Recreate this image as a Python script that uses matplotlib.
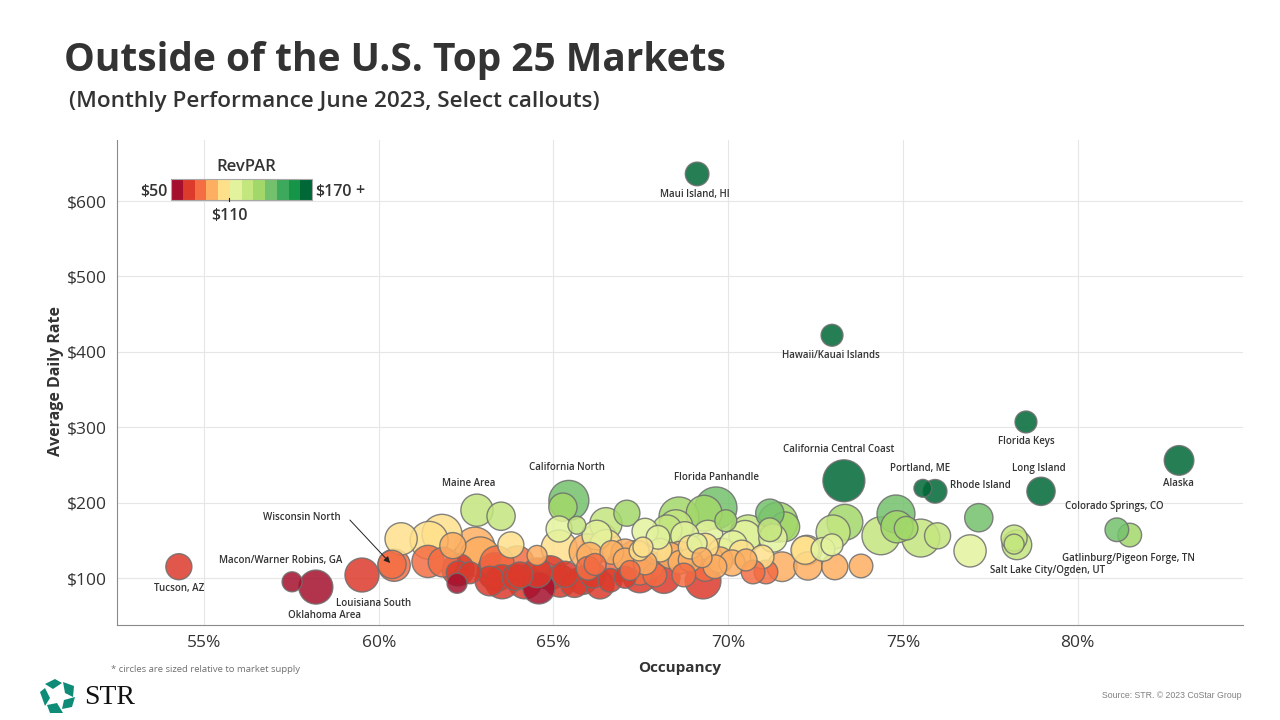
import numpy as np
import matplotlib
matplotlib.use('Agg')
import matplotlib.pyplot as plt
from matplotlib.colors import ListedColormap, BoundaryNorm
from matplotlib.patches import Polygon, Rectangle
from matplotlib.ticker import FuncFormatter

W, H = 1280, 720

# ---- data ----
occupancy = [
    69.11, 72.97, 78.52, 82.90, 78.95, 75.57, 75.92, 73.31, 54.28, 57.52, 59.52, 58.20,
    62.81, 63.50, 65.44, 65.27, 65.16, 65.67, 66.50, 67.10, 66.24, 66.33, 65.96,
    61.81, 61.44, 60.64, 62.12, 62.75, 63.78, 64.53, 65.16, 61.41, 60.44, 60.38, 61.84,
    63.38, 62.90, 62.27, 62.27, 62.61, 62.24, 63.38, 63.33, 63.53, 63.90, 64.04, 64.58,
    64.53, 65.19, 65.33, 65.84, 66.13, 65.99, 66.19, 66.90, 66.62, 67.05, 67.19, 67.45,
    67.62, 67.99, 68.50, 68.59, 68.76, 69.65, 69.31, 69.93, 69.42, 69.11, 69.34, 70.14,
    70.48, 67.56, 68.05, 69.25, 68.73, 68.16, 69.28, 69.62, 70.11, 70.51, 70.97, 70.71,
    71.08, 71.54, 71.19, 71.42, 71.62, 71.19, 71.28, 72.25, 72.20, 72.28, 72.71, 72.97,
    73.00, 73.34, 73.05, 73.80, 74.37, 74.80, 74.83, 75.09, 75.51, 75.99, 77.17, 76.92,
    78.18, 78.26, 78.18, 81.12, 81.49,
    67.76, 67.47, 68.33, 68.91, 68.62, 67.90, 69.82, 70.39, 67.05, 69.34, 66.67,
    64.90, 63.96, 63.18, 64.18, 65.60, 66.33, 67.47, 67.05, 67.62, 67.33, 68.62,
    69.76, 68.91, 68.25, 70.57, 66.50, 66.04,
]
adr = [
    636, 422, 307, 256, 215, 219, 215, 229, 115, 95, 104, 88,
    190, 182, 203, 194, 165, 170, 172, 186, 157, 150, 135,
    158, 150, 152, 143, 141, 144, 130, 140, 122, 117, 118, 121,
    120, 128, 111, 107, 107, 93, 108, 110, 95, 101, 104, 87,
    107, 96, 105, 97, 104, 113, 118, 115, 97, 101, 110, 136,
    162, 154, 168, 181, 156, 193, 186, 176, 157, 146, 142, 144,
    155, 141, 137, 127, 104, 101, 96, 115, 120, 124, 128, 108,
    108, 115, 186, 174, 168, 164, 153, 137, 137, 116, 138, 144,
    161, 174, 115, 116, 156, 185, 168, 166, 153, 156, 180, 136,
    153, 144, 145, 164, 157,
    117, 108, 130, 124, 121, 104, 134, 133, 124, 113, 134,
    107, 120, 96, 95, 93, 91, 103, 133, 120, 127, 130,
    124, 141, 164, 160, 143, 130,
]
supply = [
    14, 12, 12, 22, 20, 8, 14, 44, 17, 10, 29, 29,
    26, 20, 40, 20, 17, 8, 26, 17, 22, 32, 32,
    40, 36, 26, 17, 40, 17, 10, 32, 26, 26, 20, 22,
    29, 40, 26, 14, 12, 10, 36, 32, 29, 17, 17, 26,
    22, 26, 17, 20, 17, 14, 12, 20, 14, 12, 10, 10,
    17, 14, 29, 40, 20, 44, 32, 12, 22, 10, 17, 20,
    26, 10, 14, 10, 14, 26, 32, 14, 17, 12, 14, 14,
    14, 22, 20, 40, 22, 14, 20, 22, 20, 20, 14, 12,
    29, 32, 17, 14, 36, 36, 26, 14, 36, 17, 20, 26,
    17, 22, 10, 14, 14,
    20, 17, 17, 14, 14, 14, 20, 17, 14, 17, 14,
    29, 29, 22, 29, 20, 20, 29, 20, 14, 29, 20,
    17, 14, 22, 32, 26, 17,
]

x_ticks = [55, 60, 65, 70, 75, 80]
y_ticks = [100, 200, 300, 400, 500, 600]
revpar_bins = list(range(50, 180, 10))
palette = ['#A50F2D', '#DC3A2B', '#F46D43', '#FDAE61', '#FEE08B', '#E3F39D',
           '#C4E67F', '#A2D86A', '#74C16D', '#3DA95C', '#169548', '#006837']

# callouts: name, centre of the text in pixels
callouts = [
    ('Maui Island, HI', 695, 195), ('Hawaii/Kauai Islands', 831, 355),
    ('Florida Keys', 1026, 441), ('California Central Coast', 839, 450),
    ('Portland, ME', 920, 469), ('Long Island', 1039, 468),
    ('Rhode Island', 980, 485), ('Alaska', 1178, 484),
    ('Colorado Springs, CO', 1114, 506), ('Gatlinburg/Pigeon Forge, TN', 1128, 558),
    ('Salt Lake City/Ogden, UT', 1048, 570), ('California North', 567, 468),
    ('Maine Area', 469, 483), ('Florida Panhandle', 716, 478),
    ('Wisconsin North', 302, 518), ('Macon/Warner Robins, GA', 281, 560),
    ('Tucson, AZ', 179, 589), ('Louisiana South', 374, 603),
    ('Oklahoma Area', 324, 615),
]

plt.rcParams['font.family'] = ['Open Sans', 'DejaVu Sans']
TEXT = '#333333'


def px(x, y):
    """pixel position (origin top left) to figure fraction"""
    return x / W, 1 - y / H


fig = plt.figure(figsize=(12.8, 7.2), dpi=100, facecolor='white')
ax = fig.add_axes([117 / W, 1 - 625 / H, (1243 - 117) / W, (625 - 140) / H])

occ = np.array(occupancy)
rate = np.array(adr)
size = np.array(supply, dtype=float)
revpar = occ * rate / 100

cmap = ListedColormap(palette)
norm = BoundaryNorm(revpar_bins, cmap.N, clip=True)

# big circles go first so the small ones stay visible
order = np.argsort(-size)
ax.scatter(occ[order], rate[order], s=size[order] * 20.7, c=revpar[order], cmap=cmap, norm=norm,
           alpha=0.85, edgecolors='#6E6E6E', linewidths=1.0, zorder=3)

ax.set_xlim(52.51, 84.73)
ax.set_ylim(37.7, 681)
ax.set_xticks(x_ticks)
ax.set_yticks(y_ticks)
ax.xaxis.set_major_formatter(FuncFormatter(lambda v, _: f'{v:.0f}%'))
ax.yaxis.set_major_formatter(FuncFormatter(lambda v, _: f'${v:.0f}'))
ax.tick_params(length=0, labelsize=12.5, labelcolor=TEXT, pad=7)
ax.grid(True, color='#E6E6E6', linewidth=0.8, zorder=0)
ax.set_axisbelow(True)
for side in ['top', 'right']:
    ax.spines[side].set_visible(False)
for side in ['left', 'bottom']:
    ax.spines[side].set_color('#8A8A8A')

for name, x, y in callouts:
    fig.text(*px(x, y), name, fontsize=7, fontweight='semibold', color=TEXT,
             ha='center', va='center', zorder=6)

# arrow for Wisconsin North
ax.annotate('', xy=ax.transData.inverted().transform((392, H - 565)),
            xytext=ax.transData.inverted().transform((348, H - 518)),
            arrowprops=dict(arrowstyle='-|>', color='#222222', lw=0.7, mutation_scale=9),
            zorder=7)

# titles
fig.text(*px(64, 60), 'Outside of the U.S. Top 25 Markets', fontsize=28, fontweight='bold',
         color=TEXT, ha='left', va='center')
fig.text(*px(69, 102), '(Monthly Performance June 2023, Select callouts)', fontsize=16.2,
         fontweight='semibold', color=TEXT, ha='left', va='center')
fig.text(*px(680, 668), 'Occupancy', fontsize=11, fontweight='bold', color=TEXT,
         ha='center', va='center')
fig.text(*px(56, 381), 'Average Daily Rate', fontsize=11.5, fontweight='bold', color=TEXT,
         ha='center', va='center', rotation=90)

# RevPAR legend
x0, x1, y0, y1 = 171, 312, 179, 200
cell = (x1 - x0) / len(palette)
for i, c in enumerate(palette):
    fig.add_artist(Rectangle(px(x0 + i * cell, y1), cell / W, (y1 - y0) / H, facecolor=c,
                             edgecolor='none', transform=fig.transFigure, zorder=8))
fig.add_artist(Rectangle(px(x0, y1), (x1 - x0) / W, (y1 - y0) / H, facecolor='none',
                         edgecolor='#A8A8A8', linewidth=0.8, transform=fig.transFigure, zorder=9))
fig.add_artist(plt.Line2D([229 / W, 229 / W], [1 - 198 / H, 1 - 201 / H], color='#222222',
                          linewidth=0.8, transform=fig.transFigure, zorder=10))
fig.text(*px(246, 167), 'RevPAR', fontsize=12, fontweight='semibold', color=TEXT, ha='center', va='center')
fig.text(*px(168, 192), '$50', fontsize=11.5, fontweight='semibold', color=TEXT, ha='right', va='center')
fig.text(*px(315, 192), '$170', fontsize=11.5, fontweight='semibold', color=TEXT, ha='left', va='center')
fig.text(*px(360, 191), '+', fontsize=11.5, fontweight='semibold', color=TEXT, ha='center', va='center')
fig.text(*px(229, 216), '$110', fontsize=11.5, fontweight='semibold', color=TEXT, ha='center', va='center')

# footer
fig.text(*px(111, 669), '* circles are sized relative to market supply', fontsize=6.8,
         color='#707070', ha='left', va='center')
fig.text(*px(1241, 695), 'Source: STR. \u00a9 2023 CoStar Group', fontsize=6.3, color='#808080',
         ha='right', va='center', family=['Liberation Sans', 'DejaVu Sans'])

# STR logo
logo_parts = [
    [(45, 684), (55, 679), (62, 683), (53, 689)],
    [(63, 682), (74, 686), (73, 697), (65, 693)],
    [(75, 697), (72, 707), (62, 709), (64, 700)],
    [(47, 705), (57, 703), (63, 713), (50, 713)],
    [(40, 692), (45, 688), (50, 698), (45, 706)],
]
for part in logo_parts:
    fig.add_artist(Polygon([px(a, b) for a, b in part], closed=True, facecolor='#0E8C78',
                           edgecolor='none', transform=fig.transFigure))
fig.text(*px(84, 697), 'STR', fontsize=20, color='#111111', ha='left', va='center',
         family=['Liberation Serif', 'DejaVu Serif'])

fig.savefig('out.png', dpi=100)
